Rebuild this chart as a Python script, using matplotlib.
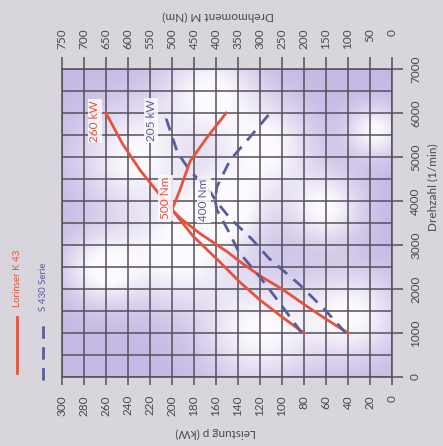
import matplotlib.pyplot as plt
import numpy as np
from matplotlib.lines import Line2D

plt.rcParams['font.family'] = ['Lato', 'DejaVu Sans']

# Lorinser K 43 (solid red)
rpm_k43_kw = [1000, 1300, 1600, 2000, 2300, 2600, 2850, 3250, 3600, 3800, 4200, 4700, 5300, 6000]
kw_k43 = [40, 59, 77, 100, 120, 137, 150, 174, 192, 200, 213, 229, 245, 260]
rpm_k43_nm = [1000, 1350, 1750, 2150, 2650, 3200, 3550, 3800, 4250, 4900, 5450, 6000]
nm_k43 = [200, 248, 300, 345, 395, 452, 480, 500, 482, 459, 420, 377]

# S 430 Serie (dashed blue)
rpm_s430_kw = [1000, 1500, 2100, 2700, 3150, 3600, 4000, 4200, 4700, 5100, 5550, 5850, 6000]
kw_s430 = [42, 60, 84, 112, 128, 147, 160, 165, 184, 195, 201, 205, 201]
rpm_s430_nm = [1000, 1680, 2270, 2840, 3340, 3800, 4020, 4320, 4930, 5450, 6000]
nm_s430 = [205, 255, 300, 348, 373, 398, 402, 398, 368, 323, 277]

kw_ticks = list(range(0, 301, 20))
nm_ticks = list(range(0, 751, 50))
rpm_ticks = list(range(0, 7001, 1000))

red = '#e5533d'
blue = '#595e97'
grid_c = '#55505c'
text_c = '#4a4850'

fig = plt.figure(figsize=(4.43, 4.46), dpi=100, facecolor='#d8d6dc')
ax = fig.add_axes([62/443, 1-377/446, 330/443, 308/446])

# mottled lavender background
gx, gy = np.meshgrid(np.linspace(0, 1, 200), np.linspace(0, 1, 200))
spots = [(0.22, 0.72, 0.12), (0.45, 0.93, 0.10), (0.62, 0.75, 0.10), (0.35, 0.40, 0.12),
         (0.60, 0.15, 0.12), (0.88, 0.20, 0.10), (0.80, 0.55, 0.08), (0.12, 0.35, 0.08),
         (0.95, 0.80, 0.06), (0.50, 0.55, 0.09)]
w = np.zeros_like(gx)
for cx, cy, r in spots:
    w += np.exp(-((gx-cx)**2 + (gy-cy)**2) / (2*r**2))
w = np.clip(w, 0, 1)
lav = np.array([196, 184, 228]) / 255.
wht = np.array([252, 250, 253]) / 255.
img = lav[None, None, :]*(1-w[..., None]) + wht[None, None, :]*w[..., None]
ax.imshow(img, extent=[0, 1, 0, 1], transform=ax.transAxes, origin='lower',
          aspect='auto', zorder=0)

ax.set_xlim(300, 0)
ax.set_ylim(0, 7000)
ax.set_xticks(kw_ticks)
ax.set_xticklabels([str(v) for v in kw_ticks], rotation=90, fontsize=8.5, color=text_c)
ax.tick_params(axis='x', direction='out', length=6, width=1.1, color=grid_c, pad=7)
ax.yaxis.tick_right()
ax.set_yticks(rpm_ticks)
ax.set_yticks(list(range(500, 7000, 1000)), minor=True)
ax.set_yticklabels([str(v) for v in rpm_ticks], rotation=90, va='center',
                   fontsize=8.5, color=text_c)
ax.tick_params(axis='y', which='major', direction='out', length=8, width=1.1,
               color=grid_c, pad=5)
ax.tick_params(axis='y', which='minor', length=0)
ax.grid(True, which='both', color=grid_c, lw=1.1, zorder=1)
for s in ax.spines.values():
    s.set_color(grid_c)
    s.set_linewidth(1.1)

ax2 = ax.twiny()
ax2.set_xlim(750, 0)
ax2.set_xticks(nm_ticks)
ax2.set_xticklabels([str(v) for v in nm_ticks], rotation=90, va='top',
                    fontsize=8.5, color=text_c)
ax2.tick_params(axis='x', direction='out', length=9, width=1.1, color=grid_c, pad=20)
for s in ax2.spines.values():
    s.set_visible(False)

# curves
ax.plot(kw_k43, rpm_k43_kw, color=red, lw=2, zorder=3)
ax.plot(kw_s430, rpm_s430_kw, color=blue, lw=2, dashes=(4.5, 3), zorder=3)
ax2.plot(nm_k43, rpm_k43_nm, color=red, lw=2, zorder=3)
ax2.plot(nm_s430, rpm_s430_nm, color=blue, lw=2, dashes=(4.5, 3), zorder=3)

box = dict(facecolor='#fbfafc', edgecolor='none', alpha=0.85, pad=1.2)
ax2.text(270, 5818, '260 kW', transform=ax.transData, rotation=90, color=red,
         fontsize=8.5, ha='center', va='center', bbox=box, zorder=5)
ax2.text(219, 5840, '205 kW', transform=ax.transData, rotation=90, color=blue,
         fontsize=8.5, ha='center', va='center', bbox=box, zorder=5)
ax2.text(206, 4068, '500 Nm', transform=ax.transData, rotation=90, color=red,
         fontsize=8.5, ha='center', va='center', bbox=box, zorder=5)
ax2.text(171, 4023, '400 Nm', transform=ax.transData, rotation=90, color=blue,
         fontsize=8.5, ha='center', va='center', bbox=box, zorder=5)

# axis titles
fig.text(218/443, 1-16/446, 'Drehmoment M (Nm)', rotation=180, ha='center', va='center',
         fontsize=8.5, color=text_c)
fig.text(216/443, 1-433/446, 'Leistung p (kW)', rotation=180, ha='center', va='center',
         fontsize=8.5, color=text_c)
fig.text(433/443, 1-187/446, 'Drehzahl (1/min)', rotation=90, ha='center', va='center',
         fontsize=8.5, color=text_c)

# legend
fig.add_artist(Line2D([17/443, 17/443], [1-373/446, 1-317/446], color=red, lw=2,
                      transform=fig.transFigure))
fig.add_artist(Line2D([43/443, 43/443], [1-380/446, 1-323/446], color=blue, lw=2,
                      dashes=(4.5, 3), transform=fig.transFigure))
fig.text(17/443, 1-278/446, 'Lorinser K 43', rotation=90, ha='center', va='center',
         fontsize=7, color=red)
fig.text(43/443, 1-287/446, 'S 430 Serie', rotation=90, ha='center', va='center',
         fontsize=7, color=blue)

fig.savefig('out.png', dpi=100, facecolor=fig.get_facecolor())
